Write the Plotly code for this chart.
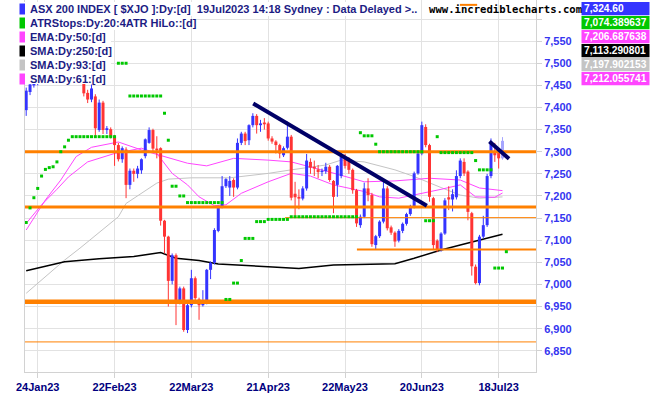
import plotly.graph_objects as go

# ---------------- data ----------------
tick_idx = [3, 23, 43, 63, 83, 103, 123]
tick_lbl = ["24Jan23", "22Feb23", "22Mar23", "21Apr23", "22May23", "20Jun23", "18Jul23"]

opens = [7394, 7435, 7450, 7458, 7472, 7466, 7493, 7482, 7476, 7511,
         7540, 7558, 7539, 7502, 7533, 7505, 7433, 7418, 7425, 7349,
         7411, 7349, 7351, 7334, 7315, 7283, 7305, 7225, 7257, 7250,
         7258, 7290, 7320, 7349, 7307, 7308, 7144, 7108, 7008, 7066,
         6963, 6991, 6897, 6953, 7014, 6966, 6953, 6961, 7033, 7049,
         7121, 7176, 7222, 7219, 7236, 7219, 7320, 7341, 7326, 7360,
         7381, 7360, 7366, 7364, 7330, 7323, 7315, 7292, 7309, 7334,
         7205, 7198, 7194, 7217, 7277, 7266, 7260, 7254, 7256, 7266,
         7234, 7225, 7245, 7285, 7280, 7259, 7213, 7134, 7153, 7217,
         7202, 7089, 7109, 7142, 7217, 7129, 7117, 7099, 7121, 7137,
         7159, 7176, 7251, 7296, 7356, 7315, 7195, 7099, 7078, 7115,
         7197, 7192, 7197, 7245, 7277, 7255, 7161, 7040, 7003, 7108,
         7134, 7245, 7300, 7300, 7285]
highs = [7445, 7462, 7470, 7480, 7478, 7500, 7500, 7490, 7515, 7545,
         7567, 7560, 7542, 7540, 7540, 7510, 7440, 7452, 7430, 7418,
         7415, 7358, 7355, 7338, 7320, 7312, 7310, 7262, 7262, 7268,
         7285, 7330, 7355, 7352, 7335, 7310, 7146, 7110, 7070, 7070,
         6995, 6995, 6958, 7033, 7018, 6970, 6987, 7035, 7052, 7127,
         7178, 7245, 7240, 7245, 7240, 7330, 7345, 7345, 7362, 7387,
         7385, 7372, 7376, 7368, 7335, 7326, 7318, 7312, 7368, 7338,
         7232, 7215, 7222, 7295, 7285, 7280, 7270, 7262, 7275, 7270,
         7236, 7270, 7300, 7295, 7288, 7262, 7216, 7158, 7230, 7240,
         7207, 7112, 7145, 7232, 7222, 7133, 7120, 7125, 7140, 7162,
         7180, 7255, 7300, 7368, 7362, 7318, 7198, 7102, 7118, 7195,
         7222, 7215, 7258, 7285, 7285, 7258, 7164, 7045, 7112, 7155,
         7250, 7330, 7320, 7305, 7333]
lows = [7381, 7428, 7445, 7450, 7455, 7460, 7475, 7465, 7470, 7505,
        7535, 7530, 7495, 7498, 7505, 7425, 7410, 7412, 7334, 7345,
        7340, 7340, 7330, 7268, 7278, 7275, 7195, 7215, 7232, 7240,
        7250, 7285, 7318, 7300, 7285, 7133, 7070, 6950, 7000, 6908,
        6955, 6893, 6890, 6948, 6962, 6920, 6950, 6955, 7012, 7045,
        7118, 7172, 7218, 7200, 7198, 7215, 7315, 7315, 7315, 7355,
        7341, 7345, 7350, 7325, 7318, 7296, 7285, 7288, 7305, 7190,
        7150, 7170, 7190, 7212, 7250, 7245, 7240, 7245, 7250, 7232,
        7161, 7198, 7240, 7262, 7250, 7205, 7130, 7128, 7150, 7188,
        7085, 7078, 7105, 7138, 7122, 7112, 7085, 7095, 7116, 7133,
        7155, 7172, 7248, 7292, 7310, 7187, 7080, 7073, 7074, 7112,
        7168, 7165, 7192, 7240, 7245, 7145, 7020, 7000, 6998, 7104,
        7130, 7240, 7277, 7262, 7282]
closes = [7438, 7452, 7458, 7470, 7466, 7493, 7482, 7476, 7511, 7540,
          7558, 7539, 7502, 7533, 7510, 7432, 7418, 7443, 7353, 7411,
          7349, 7353, 7334, 7315, 7283, 7308, 7225, 7257, 7250, 7262,
          7283, 7328, 7349, 7307, 7303, 7144, 7108, 7008, 7066, 6963,
          6991, 6897, 6953, 7014, 6969, 6953, 6961, 7033, 7049, 7123,
          7174, 7222, 7238, 7234, 7219, 7320, 7341, 7324, 7360, 7381,
          7360, 7364, 7362, 7330, 7323, 7315, 7296, 7308, 7334, 7196,
          7197, 7194, 7217, 7280, 7264, 7262, 7254, 7257, 7266, 7236,
          7198, 7268, 7289, 7268, 7259, 7213, 7138, 7153, 7217, 7202,
          7091, 7109, 7142, 7217, 7127, 7117, 7097, 7121, 7137, 7159,
          7176, 7251, 7296, 7360, 7315, 7198, 7089, 7078, 7115, 7190,
          7192, 7204, 7245, 7280, 7251, 7164, 7041, 7003, 7108, 7134,
          7245, 7323, 7292, 7285, 7324.6]

# ATR stops (plotted one bar ahead, so 126 values)
atr_stop = [7140, 7173, 7196, 7217, 7245, 7260, 7264, 7266, 7277, 7300,
            7311, 7326, 7334, 7334, 7334, 7334, 7334, 7334, 7334, 7334,
            7334, 7334, 7334, 7334, 7500, 7500, 7500, 7426, 7426, 7426,
            7426, 7426, 7426, 7426, 7426, 7426, 7387, 7326, 7222, 7222,
            7200, 7200, 7185, 7185, 7185, 7185, 7185, 7185, 7185, 7185,
            7185, 7185, 6966, 6966, 7003, 7003, 7054, 7104, 7104, 7104,
            7142, 7142, 7142, 7147, 7147, 7147, 7147, 7147, 7147, 7153,
            7153, 7153, 7153, 7153, 7153, 7153, 7153, 7153, 7153, 7153,
            7153, 7153, 7153, 7153, 7153, 7153, 7153, 7343, 7336, 7336,
            7336, 7317, 7300, 7300, 7300, 7300, 7300, 7300, 7300, 7300,
            7300, 7300, 7300, 7300, 7144, 7144, 7144, 7334, 7298, 7298,
            7298, 7298, 7298, 7298, 7298, 7298, 7298, 7280, 7259, 7259,
            7259, 7259, 7037, 7037, 7037, 7074]

ema50_x = [0, 4, 8, 11, 16, 23, 30, 34, 38, 42, 45, 49, 52, 56, 63, 69, 74, 80, 88, 92, 97, 101, 108, 113, 117, 122, 124]
ema50_y = [7138, 7180, 7215, 7243, 7277, 7296, 7308, 7296, 7251, 7225, 7198, 7178, 7180, 7206, 7232, 7251, 7245, 7225, 7210, 7198, 7195, 7202, 7215, 7225, 7198, 7197, 7206.69]

sma61_x = [0, 5, 9, 13, 17, 24, 30, 35, 42, 47, 54, 63, 69, 79, 88, 96, 105, 113, 118, 124]
sma61_y = [7123, 7191, 7236, 7289, 7310, 7322, 7304, 7292, 7274, 7268, 7285, 7281, 7277, 7254, 7232, 7234, 7240, 7236, 7218, 7212.06]

sma93_x = [0, 10, 14, 24, 26, 34, 37, 43, 53, 63, 69, 78, 82, 88, 96, 101, 108, 113, 118, 124]
sma93_y = [6980, 7055, 7082, 7153, 7183, 7229, 7238, 7241, 7241, 7251, 7259, 7270, 7281, 7277, 7259, 7244, 7219, 7202, 7195, 7197.9]

sma250_x = [0, 10, 19, 28, 35, 39, 45, 50, 63, 71, 80, 89, 96, 101, 108, 113, 118, 124]
sma250_y = [7031, 7051, 7058, 7063, 7072, 7059, 7054, 7046, 7040, 7036, 7044, 7045, 7047, 7059, 7078, 7089, 7100, 7113.29]

# horizontal support / resistance lines: level, start index, end index
hl_level = [7300, 7175, 6961, 7151, 7079, 6870, 7632]
hl_start = [-0.4, -0.4, -0.4, 67.4, 86.1, -0.4, 112.9]
hl_end = [133, 133, 133, 133, 133, 133, 117.4]

# trend lines
tl1_x = [59.1, 104.3]
tl1_y = [7409, 7178]
tl2_x = [120.6, 125.7]
tl2_y = [7323, 7284]

legend_rows = ["ASX 200 INDEX [ $XJO ]:Dy:[d]\u00a0\u00a019Jul2023 14:18 Sydney : Data Delayed >..",
               "ATRStops:Dy:20:4ATR HiLo::[d]",
               "EMA:Dy:50:[d]",
               "SMA:Dy:250:[d]",
               "SMA:Dy:93:[d]",
               "SMA:Dy:61:[d]"]
value_labels = ["7,324.60", "7,074.389637", "7,206.687638", "7,113.290801", "7,197.902153", "7,212.055741"]

# ---------------- styling ----------------
W, H = 651, 395
LM, RM, TM, BM = 25, 115, 0, 23
PW, PH = W - LM - RM, H - TM - BM
X_RANGE = [-0.3124, 132.72]
Y_RANGE = [6802, 7643]

BLUE = "#3434ff"
RED = "#ff3434"
LIGHT = "#a6a6ff"
ORANGE = "#ff8000"
GREEN = "#00c800"
MAGENTA = "#ff45ff"
GRAY = "#c4c4c4"
NAVY = "#000066"
GRID = "#e2e2e2"
AXIS = "#d2d2d2"
FONT = "Arial, Liberation Sans, sans-serif"

hl_width = [3, 3, 4.5, 1, 2, 1, 2]
row_colors = [BLUE, GREEN, MAGENTA, "#000000", GRAY, MAGENTA]


def pxx(px):
    return (px - LM) / PW


def pxy(py):
    return 1 - (py - TM) / PH


fig = go.Figure()

# moving averages (under candles)
fig.add_trace(go.Scatter(x=sma93_x, y=sma93_y, mode="lines", line=dict(color=GRAY, width=1)))
fig.add_trace(go.Scatter(x=sma250_x, y=sma250_y, mode="lines", line=dict(color="#000000", width=1.5)))
fig.add_trace(go.Scatter(x=sma61_x, y=sma61_y, mode="lines", line=dict(color=MAGENTA, width=1)))
fig.add_trace(go.Scatter(x=ema50_x, y=ema50_y, mode="lines", line=dict(color=MAGENTA, width=1)))

# candles
n = len(closes)
groups = {BLUE: [], RED: [], LIGHT: []}
for i in range(n):
    if i == n - 1:
        groups[LIGHT].append(i)
    elif closes[i] >= opens[i]:
        groups[BLUE].append(i)
    else:
        groups[RED].append(i)

for col, idx in groups.items():
    wx, wy, bx, by = [], [], [], []
    for i in idx:
        wx += [i, i, None]
        wy += [lows[i], highs[i], None]
        lo, hi = min(opens[i], closes[i]), max(opens[i], closes[i])
        if hi - lo < 2.4:
            m = (hi + lo) / 2
            lo, hi = m - 1.2, m + 1.2
        bx += [i, i, None]
        by += [lo, hi, None]
    fig.add_trace(go.Scatter(x=wx, y=wy, mode="lines", line=dict(color=col, width=1)))
    fig.add_trace(go.Scatter(x=bx, y=by, mode="lines", line=dict(color=col, width=3)))

# horizontal lines
for lv, s, e, w in zip(hl_level, hl_start, hl_end, hl_width):
    fig.add_trace(go.Scatter(x=[s, e], y=[lv, lv], mode="lines", line=dict(color=ORANGE, width=w)))

# trend lines
fig.add_trace(go.Scatter(x=tl1_x, y=tl1_y, mode="lines", line=dict(color=NAVY, width=4)))
fig.add_trace(go.Scatter(x=tl2_x, y=tl2_y, mode="lines", line=dict(color=NAVY, width=4)))

# ATR stops
fig.add_trace(go.Scatter(x=list(range(len(atr_stop))), y=atr_stop, mode="markers",
                         marker=dict(symbol="square", size=3, color=GREEN, line=dict(width=0))))

shapes = []
annotations = []

# legend backgrounds
bg_boxes = [(19, 410, 2, 16), (19, 191, 16, 30), (19, 111, 30, 84)]
for x0, x1, y0, y1 in bg_boxes:
    shapes.append(dict(type="rect", xref="paper", yref="paper", x0=pxx(x0), x1=pxx(x1),
                       y0=pxy(y1), y1=pxy(y0), fillcolor="white", line=dict(width=0), layer="above"))
for k, (txt, col) in enumerate(zip(legend_rows, row_colors)):
    yc = 9 + 14 * k
    shapes.append(dict(type="rect", xref="paper", yref="paper", x0=pxx(19.5), x1=pxx(25),
                       y0=pxy(yc + 5.5), y1=pxy(yc - 5.5), fillcolor=col, line=dict(width=0), layer="above"))
    annotations.append(dict(text=txt, xref="paper", yref="paper", x=pxx(28), y=pxy(yc),
                            xanchor="left", yanchor="middle", showarrow=False,
                            font=dict(family=FONT, size=11, color="#1c1c84", weight="bold")))

# value boxes on the right
for k, (txt, col) in enumerate(zip(value_labels, row_colors)):
    top = 2 + 14 * k
    shapes.append(dict(type="rect", xref="paper", yref="paper", x0=pxx(581.5), x1=pxx(649.5),
                       y0=pxy(top + 13.3), y1=pxy(top), fillcolor=col, line=dict(width=0), layer="above"))
    annotations.append(dict(text=txt, xref="paper", yref="paper", x=pxx(581.5), y=pxy(top + 6.8),
                            xanchor="left", yanchor="middle", showarrow=False,
                            font=dict(family=FONT, size=10.2, color="white", weight="bold")))

# watermark
annotations.append(dict(text="www.incrediblecharts.com", xref="paper", yref="paper",
                        x=pxx(427), y=pxy(9), xanchor="left", yanchor="middle", showarrow=False,
                        font=dict(family="DejaVu Sans Mono, Liberation Mono, monospace", size=10.6,
                                  color="#000000", weight="bold")))

y_ticks = list(range(6850, 7601, 50))
y_text = [f"{v:,}" if v <= 7550 else "" for v in y_ticks]

fig.update_layout(
    width=W, height=H,
    margin=dict(l=LM, r=RM, t=TM, b=BM, pad=0),
    paper_bgcolor="white", plot_bgcolor="white",
    showlegend=False,
    hovermode=False,
    shapes=shapes,
    annotations=annotations,
    xaxis=dict(range=X_RANGE, tickvals=tick_idx, ticktext=tick_lbl, showgrid=True,
               gridcolor=GRID, gridwidth=1, zeroline=False, showline=True, linecolor=AXIS,
               mirror=True, ticks="outside", ticklen=5, tickcolor=AXIS,
               tickfont=dict(family=FONT, size=11, color="#000080", weight="bold")),
    yaxis=dict(range=Y_RANGE, side="right", tickvals=y_ticks, ticktext=y_text, showgrid=True,
               gridcolor=GRID, gridwidth=1, zeroline=False, showline=True, linecolor=AXIS,
               mirror=True, ticks="outside", ticklen=5, tickcolor=AXIS,
               tickfont=dict(family=FONT, size=11, color="#3535f0", weight="bold")),
)

fig.write_html("out.html", config={"displayModeBar": False})
